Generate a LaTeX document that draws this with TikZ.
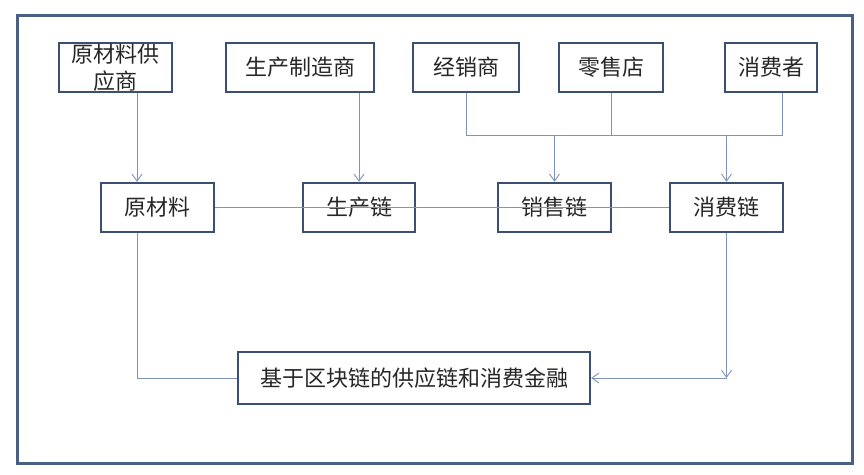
\documentclass[tikz,border=0pt]{standalone}
\usepackage{fontspec}
\usepackage{xcolor}
\usepackage{tikz}
\usetikzlibrary{arrows.meta}
\newfontfamily\cjk{Noto Sans CJK SC}
\definecolor{framecol}{HTML}{4A6080}
\definecolor{boxcol}{HTML}{3B4F70}
\definecolor{linecol}{HTML}{8094B6}

\begin{document}
\begin{tikzpicture}[x=1pt, y=-1pt]
  \tikzstyle{box} = [draw=boxcol, line width=2.4pt, minimum height=49pt, inner sep=0pt, align=center, font=\cjk\fontsize{22}{26}\selectfont, text=black!85]
  \tikzstyle{line} = [draw=linecol, line width=0.9pt]
  \tikzstyle{edge} = [line, -{Straight Barb[length=7pt, width=10pt]}]

  \useasboundingbox (0,0) rectangle (864,474);
  \draw[framecol, line width=3pt] (17,15) rectangle (852,463);

  \node[box, minimum width=113pt] (supplier) at (115.5,67.5) {原材料供\\[1pt]应商};
  \node[box, minimum width=148pt] (maker) at (300,67.5) {生产制造商};
  \node[box, minimum width=106pt] (dealer) at (466,67.5) {经销商};
  \node[box, minimum width=104pt] (retail) at (611,67.5) {零售店};
  \node[box, minimum width=92pt] (consumer) at (771,67.5) {消费者};

  \node[box, minimum width=113pt] (rawm) at (157.5,207.5) {原材料};
  \node[box, minimum width=112pt] (prodchain) at (359,207.5) {生产链};
  \node[box, minimum width=113pt] (salechain) at (554.5,207.5) {销售链};
  \node[box, minimum width=113pt] (conschain) at (726.5,207.5) {消费链};

  \node[box, minimum width=352pt, minimum height=52pt] (finance) at (414,378) {基于区块链的供应链和消费金融};

  \coordinate (bus) at (0,135);
  \coordinate (corner) at (conschain.south |- finance.east);

  \draw[edge] ([xshift=21.5pt]supplier.south) -- ([xshift=21.5pt]supplier.south |- rawm.north);
  \draw[edge] (maker.south -| prodchain.north) -- (prodchain.north);
  \draw[line] (dealer.south) |- ([xshift=11pt]consumer.south |- bus) -- ([xshift=11pt]consumer.south);
  \draw[line] (retail.south) -- (retail.south |- bus);
  \draw[edge] (salechain.north |- bus) -- (salechain.north);
  \draw[edge] (conschain.north |- bus) -- (conschain.north);
  \draw[line] (rawm.east) -- (conschain.west);
  \draw[line] ([xshift=-20.5pt]rawm.south) |- (finance.west);
  \draw[edge] (conschain.south) -- (corner);
  \draw[edge] (corner) -- (finance.east);
\end{tikzpicture}
\end{document}
